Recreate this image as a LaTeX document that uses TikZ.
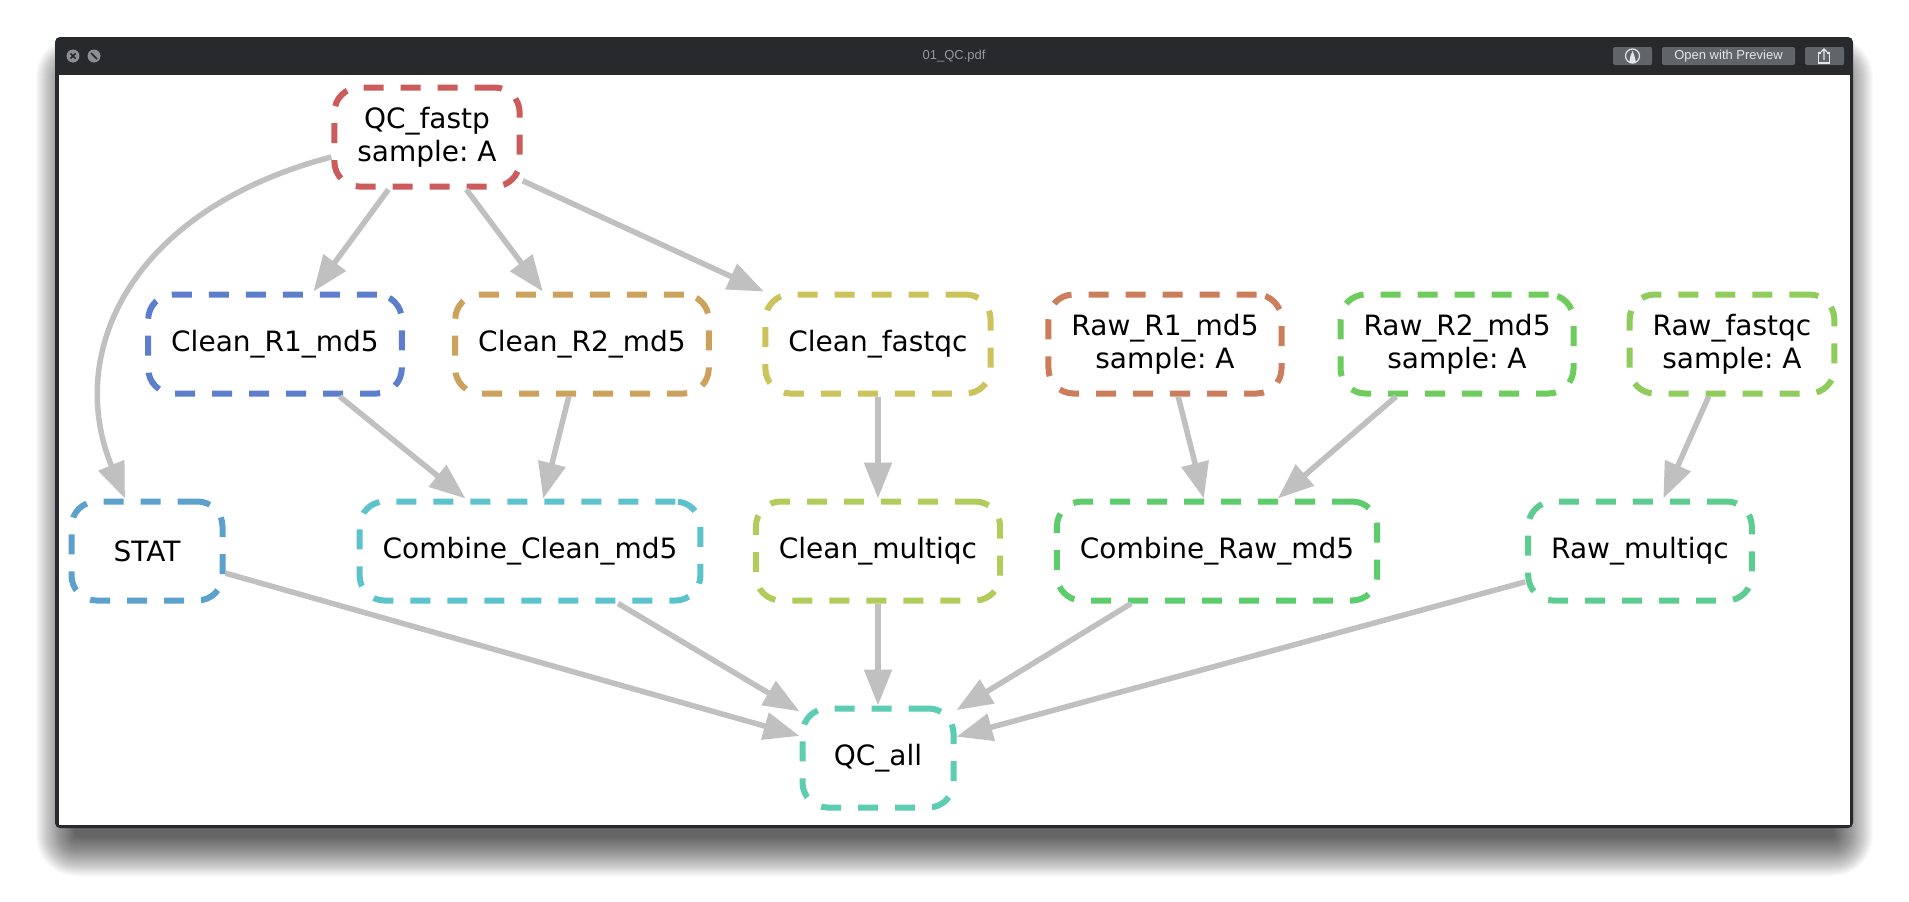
\documentclass[tikz,border=0pt]{standalone}
\usepackage{fontspec}
\setmainfont{DejaVu Sans}
\newfontfamily\uifont{Liberation Sans}
\usetikzlibrary{arrows.meta}
\frenchspacing

\definecolor{winedge}{RGB}{39,41,44}
\definecolor{btngray}{RGB}{98,101,104}
\definecolor{btntext}{RGB}{228,229,230}
\definecolor{titlegray}{RGB}{150,152,155}
\definecolor{closegray}{RGB}{140,142,145}
\definecolor{edgegray}{RGB}{192,192,192}

\definecolor{c0}{RGB}{204,92,92}
\definecolor{c1}{RGB}{204,126,92}
\definecolor{c2}{RGB}{204,161,92}
\definecolor{c3}{RGB}{204,195,92}
\definecolor{c4}{RGB}{178,204,92}
\definecolor{c5}{RGB}{144,204,92}
\definecolor{c6}{RGB}{109,204,92}
\definecolor{c7}{RGB}{92,204,109}
\definecolor{c8}{RGB}{92,204,144}
\definecolor{c9}{RGB}{92,204,178}
\definecolor{c10}{RGB}{92,195,204}
\definecolor{c11}{RGB}{92,161,204}
\definecolor{c12}{RGB}{92,126,204}

\begin{document}
\begin{tikzpicture}
  [x=1pt, y=-1pt,
   job/.style={draw, rounded corners=25pt, dash pattern=on 20pt off 17pt, line width=6pt,
     minimum width=151pt, minimum height=99pt, inner xsep=23pt, align=center,
     font=\fontsize{28}{33}\selectfont\frenchspacing},
   edge/.style={draw=edgegray, line width=5.5pt, -{Triangle[length=36pt,width=27pt]}},
   ui/.style={font=\uifont\fontsize{13}{15}\selectfont, inner sep=0pt}]
  \useasboundingbox (0,0) rectangle (1909,902);
  \fill[white] (0,0) rectangle (1909,902);

  % window shadow
  \foreach \i in {1,...,40}
    \fill[black, opacity=0.02, rounded corners=1pt*\i]
      (76-\i, 77-\i) rectangle (1833+\i, 836+\i);

  % window and title bar
  \fill[winedge, rounded corners=5pt] (55,37) rectangle (1853,828);
  \fill[white] (59,75) rectangle (1850,825);
  \fill[closegray] (73,56) circle (6.5pt);
  \draw[winedge, line width=1.6pt] (70.5,53.5) -- (75.5,58.5) (70.5,58.5) -- (75.5,53.5);
  \fill[closegray] (94,56) circle (6.5pt);
  \draw[winedge, line width=1.6pt] (91,53) -- (97,59);
  \node[ui, text=titlegray] (title) at (954,56) {01\_QC.pdf};

  \fill[btngray, rounded corners=2pt] (1613,47) rectangle (1652,65);
  \fill[btngray, rounded corners=2pt] (1662,47) rectangle (1795,65);
  \fill[btngray, rounded corners=2pt] (1805,47) rectangle (1844,65);
  \draw[btntext, line width=1.2pt] (1632.5,56) circle (7pt);
  \fill[btntext] (1629,63) -- (1630.5,56) -- (1632.5,51) -- (1634.5,56) -- (1636,63) -- cycle;
  \node[ui, text=btntext] (preview) at (1728.5,56.5) {Open with Preview};
  \draw[btntext, line width=1.2pt] (1821,53) -- (1818.5,53) -- (1818.5,63) -- (1829.5,63) -- (1829.5,53) -- (1827,53);
  \draw[btntext, line width=1.2pt] (1824,60) -- (1824,49) (1821,52) -- (1824,49) -- (1827,52);

  \node[job, draw=c0]  (n11) at (427,137) {QC\_fastp\\sample: A};

  \node[job, draw=c12] (n21) at (275,344) {Clean\_R1\_md5};
  \node[job, draw=c2]  (n22) at (582,344) {Clean\_R2\_md5};
  \node[job, draw=c3]  (n23) at (878,344) {Clean\_fastqc};
  \node[job, draw=c1]  (n24) at (1165,344) {Raw\_R1\_md5\\sample: A};
  \node[job, draw=c6]  (n25) at (1457,344) {Raw\_R2\_md5\\sample: A};
  \node[job, draw=c5]  (n26) at (1732,344) {Raw\_fastqc\\sample: A};

  \node[job, draw=c11] (n31) at (147,551) {STAT};
  \node[job, draw=c10] (n32) at (530,551) {Combine\_Clean\_md5};
  \node[job, draw=c4]  (n33) at (878,551) {Clean\_multiqc};
  \node[job, draw=c7]  (n34) at (1217,551) {Combine\_Raw\_md5};
  \node[job, draw=c8]  (n35) at (1640,551) {Raw\_multiqc};

  \node[job, draw=c9]  (n41) at (878,758) {QC\_all};

  % QC_fastp to second row
  \draw[edge] (n11) -- (n21);
  \draw[edge] (n11) -- (n22);
  \draw[edge] (n11) -- (n23);
  \draw[edge] ([yshift=-20pt]n11.west) .. controls +(-202,53) and +(-60,-145) .. ([xshift=-22pt]n31.north);

  % second row to third row
  \draw[edge] (n21) -- (n32);
  \draw[edge] (n22) -- (n32);
  \draw[edge] (n23) -- (n33);
  \draw[edge] (n24) -- (n34);
  \draw[edge] (n25) -- (n34);
  \draw[edge] (n26) -- (n35);

  % third row to QC_all
  \draw[edge] (n31) -- (n41);
  \draw[edge] (n32) -- (n41);
  \draw[edge] (n33) -- (n41);
  \draw[edge] (n34) -- (n41);
  \draw[edge] (n35) -- (n41);
\end{tikzpicture}
\end{document}
